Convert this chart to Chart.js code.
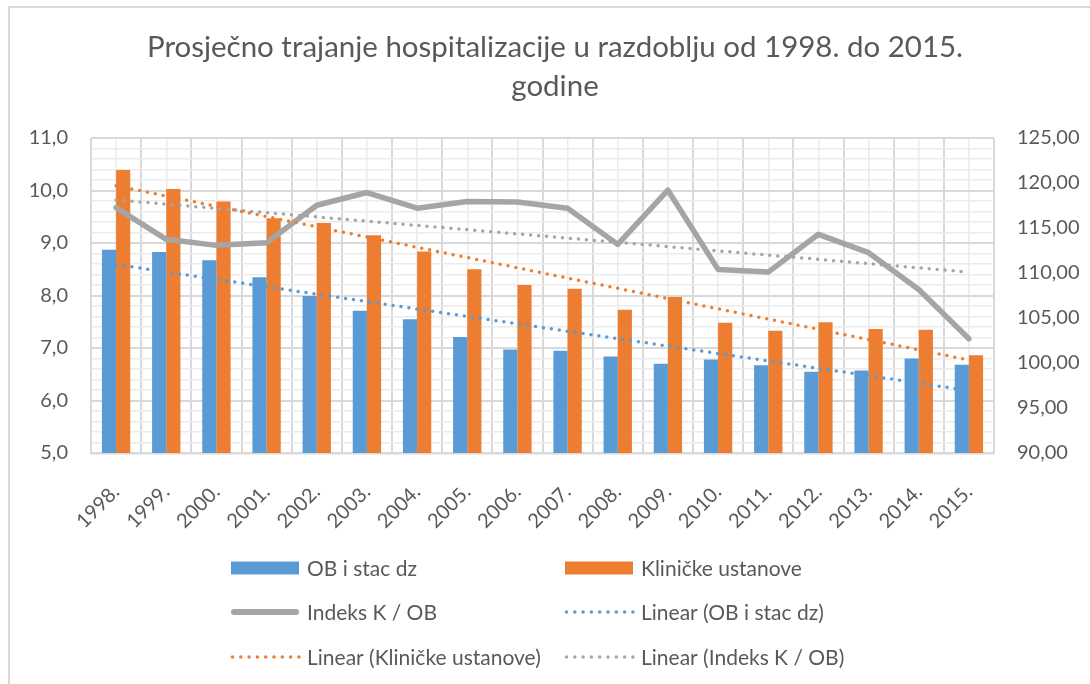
<!DOCTYPE html>
<html><head><meta charset="utf-8">
<script src="https://cdn.jsdelivr.net/npm/chart.js@4.4.1/dist/chart.umd.min.js"></script>
<style>html,body{margin:0;padding:0;background:#fff;overflow:hidden}#wrap{width:1090px;height:684px;position:relative}</style>
</head><body><div id="wrap"><canvas id="c" width="1090" height="684"></canvas></div>
<script>
const titleLines = ['Prosječno trajanje hospitalizacije u razdoblju od 1998. do 2015.', 'godine'];
const years = ['1998.','1999.','2000.','2001.','2002.','2003.','2004.','2005.','2006.','2007.','2008.','2009.','2010.','2011.','2012.','2013.','2014.','2015.'];
const obStacDz = [8.87, 8.83, 8.67, 8.35, 7.99, 7.71, 7.55, 7.21, 6.97, 6.95, 6.84, 6.70, 6.78, 6.67, 6.55, 6.57, 6.80, 6.68];
const klinickeUstanove = [10.39, 10.03, 9.79, 9.47, 9.38, 9.15, 8.84, 8.50, 8.20, 8.13, 7.73, 7.97, 7.48, 7.33, 7.49, 7.36, 7.35, 6.86];
const indeksKOB = [117.27, 113.74, 113.07, 113.37, 117.53, 118.94, 117.20, 117.94, 117.90, 117.20, 113.18, 119.20, 110.40, 110.10, 114.30, 112.26, 108.17, 102.70];
// trend line values as read at 1998. and 2015.
const trendOB = [8.59, 6.19];
const trendKlinicke = [10.09, 6.77];
const trendIndeks = [118.12, 110.10];
const leftAxis = {min: 5, max: 11, step: 0.2};
const rightAxis = {min: 90, max: 125, step: 5};

const FONT = 'Lato';
const TXT = '#595959';
const BLUE = '#5b9bd5', ORANGE = '#ed7d31', GRAY = '#a5a5a5';

function endpoints(pair) {
  return years.map((_, i) => i === 0 ? pair[0] : (i === years.length - 1 ? pair[1] : null));
}

const decor = {
  id: 'decor',
  beforeDraw(chart) {
    const ctx = chart.ctx;
    ctx.save();
    ctx.fillStyle = '#fff';
    ctx.fillRect(0, 0, chart.width, chart.height);
    ctx.strokeStyle = '#d9d9d9';
    ctx.lineWidth = 2;
    ctx.beginPath();
    ctx.moveTo(9, 700); ctx.lineTo(9, 7); ctx.lineTo(1100, 7);
    ctx.stroke();
    ctx.restore();
  },
  afterDraw(chart) {
    const ctx = chart.ctx;
    ctx.save();
    // title
    ctx.fillStyle = TXT;
    ctx.textAlign = 'center';
    ctx.textBaseline = 'alphabetic';
    ctx.font = '100px ' + FONT;
    const w = ctx.measureText(titleLines[0]).width;
    const size = 100 * 816 / w;
    ctx.font = size.toFixed(2) + 'px ' + FONT;
    ctx.fillText(titleLines[0], 555, 57);
    ctx.fillText(titleLines[1], 555, 96);
    // legend
    const ds = chart.data.datasets;
    const rows = [568, 612, 657];
    const cols = [231, 565];
    const symW = 68;
    ctx.font = '21px ' + FONT;
    ctx.textAlign = 'left';
    ctx.textBaseline = 'middle';
    ds.forEach((d, i) => {
      const r = Math.floor(i / 2), c = i % 2;
      const x = cols[c], y = rows[r];
      ctx.save();
      if (d.legendKind === 'box') {
        ctx.fillStyle = d.backgroundColor;
        ctx.fillRect(x, y - 6.5, symW, 13);
      } else if (d.legendKind === 'line') {
        ctx.strokeStyle = d.borderColor; ctx.lineWidth = 6; ctx.lineCap = 'round';
        ctx.beginPath(); ctx.moveTo(x + 3, y); ctx.lineTo(x + symW - 3, y); ctx.stroke();
      } else {
        ctx.strokeStyle = d.borderColor; ctx.lineWidth = 3.5; ctx.lineCap = 'round';
        ctx.setLineDash([0, 8.3]);
        ctx.beginPath(); ctx.moveTo(x + 1.5, y); ctx.lineTo(x + symW, y); ctx.stroke();
      }
      ctx.restore();
      ctx.fillStyle = TXT;
      ctx.fillText(d.label, x + symW + 8, y + 1);
    });
    ctx.restore();
  }
};

function isMajor(v) { return Math.abs(v - Math.round(v)) < 1e-6; }

function build() {
  new Chart(document.getElementById('c'), {
    type: 'bar',
    data: {
      labels: years,
      datasets: [
        {label: 'OB i stac dz', data: obStacDz, backgroundColor: BLUE, borderWidth: 0, yAxisID: 'y',
         barPercentage: 1, categoryPercentage: 0.565, order: 2, legendKind: 'box'},
        {label: 'Kliničke ustanove', data: klinickeUstanove, backgroundColor: ORANGE, borderWidth: 0, yAxisID: 'y',
         barPercentage: 1, categoryPercentage: 0.565, order: 2, legendKind: 'box'},
        {type: 'line', label: 'Indeks K / OB', data: indeksKOB, borderColor: GRAY, borderWidth: 5.5, yAxisID: 'y1',
         pointRadius: 0, fill: false, tension: 0, borderJoinStyle: 'round', borderCapStyle: 'round', order: 1, legendKind: 'line'},
        {type: 'line', label: 'Linear (OB i stac dz)', data: endpoints(trendOB), spanGaps: true, borderColor: BLUE, borderWidth: 3.5,
         borderDash: [0, 8], borderCapStyle: 'round', pointRadius: 0, fill: false, yAxisID: 'y', order: 0, legendKind: 'dot'},
        {type: 'line', label: 'Linear (Kliničke ustanove)', data: endpoints(trendKlinicke), spanGaps: true, borderColor: ORANGE, borderWidth: 3.5,
         borderDash: [0, 8], borderCapStyle: 'round', pointRadius: 0, fill: false, yAxisID: 'y', order: 0, legendKind: 'dot'},
        {type: 'line', label: 'Linear (Indeks K / OB)', data: endpoints(trendIndeks), spanGaps: true, borderColor: GRAY, borderWidth: 3.5,
         borderDash: [0, 8], borderCapStyle: 'round', pointRadius: 0, fill: false, yAxisID: 'y1', order: 0, legendKind: 'dot'}
      ]
    },
    options: {
      responsive: false,
      devicePixelRatio: 1,
      animation: false,
      layout: {padding: {top: 138, left: 0, right: 0, bottom: 131}},
      plugins: {legend: {display: false}, title: {display: false}, tooltip: {enabled: false}},
      scales: {
        x: {
          type: 'category', offset: true,
          grid: {offset: true, color: '#d9d9d9', lineWidth: 2, drawTicks: false},
          border: {display: true, color: '#d9d9d9', width: 2.5},
          ticks: {minRotation: 45, maxRotation: 45, autoSkip: false, color: TXT, font: {family: FONT, size: 20}, padding: 27},
          afterFit: s => { s.height = 100; }
        },
        x2: {
          type: 'category', labels: years, offset: true, position: 'bottom',
          grid: {offset: false, color: '#ebebeb', lineWidth: 1.5, drawTicks: false},
          border: {display: false},
          ticks: {display: false},
          afterFit: s => { s.height = 0; }
        },
        y: {
          position: 'left', min: leftAxis.min, max: leftAxis.max,
          grid: {color: c => isMajor(c.tick.value) ? '#d9d9d9' : '#ebebeb', lineWidth: c => isMajor(c.tick.value) ? 2 : 1.5, drawTicks: false},
          border: {display: false},
          ticks: {stepSize: leftAxis.step, autoSkip: false, color: TXT, font: {family: FONT, size: 20}, padding: 23,
                  callback: v => isMajor(v) ? Number(v).toFixed(1).replace('.', ',') : ''},
          afterFit: s => { s.width = 91; }
        },
        y1: {
          position: 'right', min: rightAxis.min, max: rightAxis.max,
          grid: {drawOnChartArea: false, drawTicks: false},
          border: {display: false},
          ticks: {stepSize: rightAxis.step, autoSkip: false, color: TXT, font: {family: FONT, size: 20}, padding: 23,
                  callback: v => Number(v).toFixed(2).replace('.', ',')},
          afterFit: s => { s.width = 96; }
        }
      }
    },
    plugins: [decor]
  });
}

if (document.fonts && document.fonts.load) {
  Promise.all([document.fonts.load('20px ' + FONT)]).then(build, build);
} else { build(); }
</script>
</body></html>
